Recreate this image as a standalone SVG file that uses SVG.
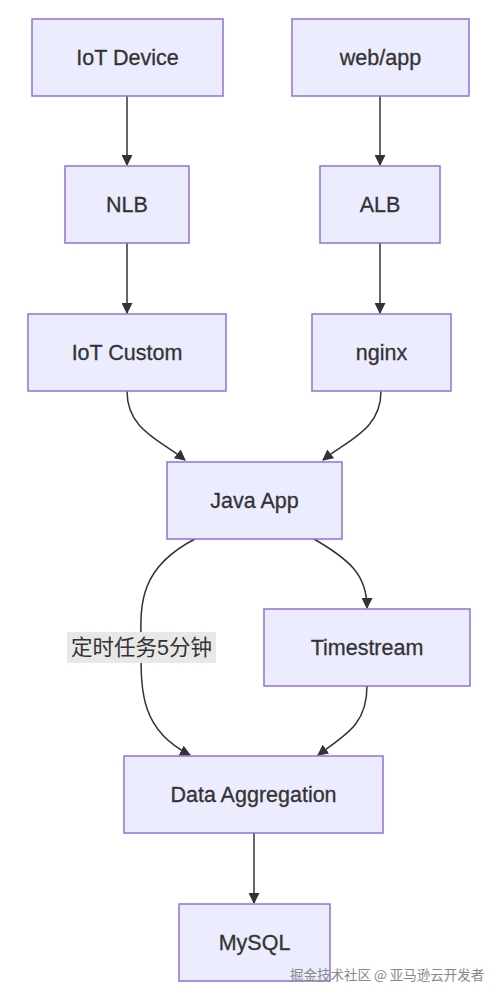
<svg xmlns="http://www.w3.org/2000/svg" width="502" height="1002" viewBox="0 0 502 1002">
<defs>
<style>
.node rect{fill:#ECECFF;stroke:#9370DB;stroke-width:1.5}
.node text{font-family:"Liberation Sans","Noto Sans",Arial,sans-serif;font-size:21.5px;fill:#333;text-anchor:middle;dominant-baseline:central;stroke:#333;stroke-width:0.3}
.edges path{fill:none;stroke:#333;stroke-width:1.5}
.lbl{font-family:"Liberation Sans","Noto Sans CJK SC",sans-serif;font-size:21.5px;fill:#333;text-anchor:middle;dominant-baseline:central}
.wm{font-family:"Noto Sans CJK SC",sans-serif;font-size:13.5px;fill:#888}
</style>
<marker id="arr" viewBox="0 0 10 10" refX="9" refY="5" markerWidth="11" markerHeight="11" markerUnits="userSpaceOnUse" orient="auto">
<path d="M0,0 L10,5 L0,10 z" fill="#333"/>
</marker>
</defs>
<rect width="502" height="1002" fill="#fff"/>
<g class="edges">
<path d="M127,96 L127,165" marker-end="url(#arr)"/>
<path d="M380,96 L380,165" marker-end="url(#arr)"/>
<path d="M127,243 L127,313" marker-end="url(#arr)"/>
<path d="M380,243 L380,313" marker-end="url(#arr)"/>
<path d="M127,391 C127,430 160,440 185,460" marker-end="url(#arr)"/>
<path d="M381,391 C381,430 348,440 323,460" marker-end="url(#arr)"/>
<path d="M195,539 C135,570 141,610 141,647 C141,690 140,730 190,755" marker-end="url(#arr)"/>
<path d="M314,539 C350,560 367,575 367,608" marker-end="url(#arr)"/>
<path d="M367,686 C367,725 345,735 318,755" marker-end="url(#arr)"/>
<path d="M254,833 L254,903" marker-end="url(#arr)"/>
</g>
<g id="label-timer">
<rect x="67" y="632" width="149" height="31" fill="#e8e8e8"/>
<text class="lbl" x="141.5" y="647.5">定时任务5分钟</text>
</g>
<g id="iot-device" class="node"><rect x="32" y="19" width="191" height="77"/><text x="127.5" y="57.5">IoT Device</text></g>
<g id="web-app" class="node"><rect x="292" y="19" width="177" height="77"/><text x="380.5" y="57.5">web/app</text></g>
<g id="nlb" class="node"><rect x="65" y="166" width="124" height="77"/><text x="127" y="204.5">NLB</text></g>
<g id="alb" class="node"><rect x="320" y="166" width="120" height="77"/><text x="380" y="204.5">ALB</text></g>
<g id="iot-custom" class="node"><rect x="28" y="314" width="198" height="77"/><text x="127" y="352.5">IoT Custom</text></g>
<g id="nginx" class="node"><rect x="312" y="314" width="139" height="77"/><text x="381.5" y="352.5">nginx</text></g>
<g id="java-app" class="node"><rect x="167" y="462" width="175" height="77"/><text x="254.5" y="500.5">Java App</text></g>
<g id="timestream" class="node"><rect x="264" y="609" width="206" height="77"/><text x="367" y="647.5">Timestream</text></g>
<g id="data-aggregation" class="node"><rect x="124" y="756" width="259" height="77"/><text x="253.5" y="794.5">Data Aggregation</text></g>
<g id="mysql" class="node"><rect x="179" y="904" width="151" height="77"/><text x="254.5" y="942.5">MySQL</text></g>
<text class="wm" x="290" y="980">掘金技术社区 @ 亚马逊云开发者</text>
</svg>
